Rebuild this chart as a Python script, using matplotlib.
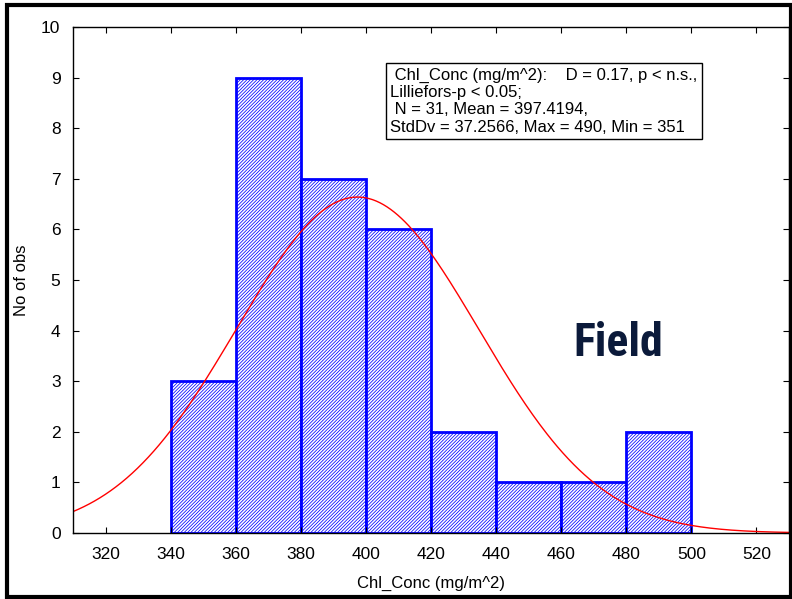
import numpy as np
import matplotlib.pyplot as plt
from matplotlib.patches import Rectangle

plt.rcParams['font.family'] = ['Liberation Sans', 'DejaVu Sans']
plt.rcParams['hatch.color'] = 'blue'
plt.rcParams['hatch.linewidth'] = 0.55

# data
bin_edges = [340, 360, 380, 400, 420, 440, 460, 480, 500]
counts = [3, 9, 7, 6, 2, 1, 1, 2]
n_obs = 31
mean = 397.4194
std = 37.2566
bin_w = 20

stats_text = (" Chl_Conc (mg/m^2):    D = 0.17, p < n.s.,\n"
              "Lilliefors-p < 0.05;\n"
              " N = 31, Mean = 397.4194,\n"
              "StdDv = 37.2566, Max = 490, Min = 351")

fig = plt.figure(figsize=(7.92, 5.99), dpi=100)
ax = fig.add_axes([73 / 792, 1 - 533 / 599, (789 - 73) / 792, (533 - 27) / 599])

# histogram bars
ax.bar(bin_edges[:-1], counts, width=bin_w, align='edge', facecolor='white',
       edgecolor='blue', linewidth=2, hatch='/' * 10)

# fitted normal curve
x = np.linspace(310, 530, 400)
y = n_obs * bin_w / (std * np.sqrt(2 * np.pi)) * np.exp(-0.5 * ((x - mean) / std) ** 2)
ax.plot(x, y, color='red', linewidth=1)

ax.set_xlim(310, 530)
ax.set_ylim(0, 10)
ax.set_xticks(range(320, 521, 20))
ax.set_yticks(range(0, 11))
ax.tick_params(direction='in', top=True, right=True, labelsize=12.5, length=4)
ax.tick_params(axis='x', pad=10)
ax.tick_params(axis='y', pad=9)
for s in ax.spines.values():
    s.set_linewidth(1)
ax.set_xlabel('Chl_Conc (mg/m^2)', fontsize=12, labelpad=10)
ax.set_ylabel('No of obs', fontsize=12, labelpad=9)

ax.text(0.443, 0.92, stats_text, transform=ax.transAxes, fontsize=12,
        va='top', ha='left', linespacing=1.2,
        bbox=dict(boxstyle='square,pad=0.25', facecolor='white', edgecolor='black', linewidth=1))

ax.text(0.699, 0.375, 'Field', transform=ax.transAxes, fontsize=33, fontweight='bold',
        fontstretch='condensed', color='#0b1a3a',
        family=['Liberation Sans Narrow', 'Noto Sans Condensed', 'Roboto Condensed',
                'DejaVu Sans Condensed', 'Roboto'],
        ha='left', va='center')

# outer frame around the figure
fig.patches.append(Rectangle((7 / 792, 2 / 599), 784 / 792, 592 / 599, transform=fig.transFigure,
                             fill=False, edgecolor='black', linewidth=3))

fig.savefig('out.png', dpi=100)
